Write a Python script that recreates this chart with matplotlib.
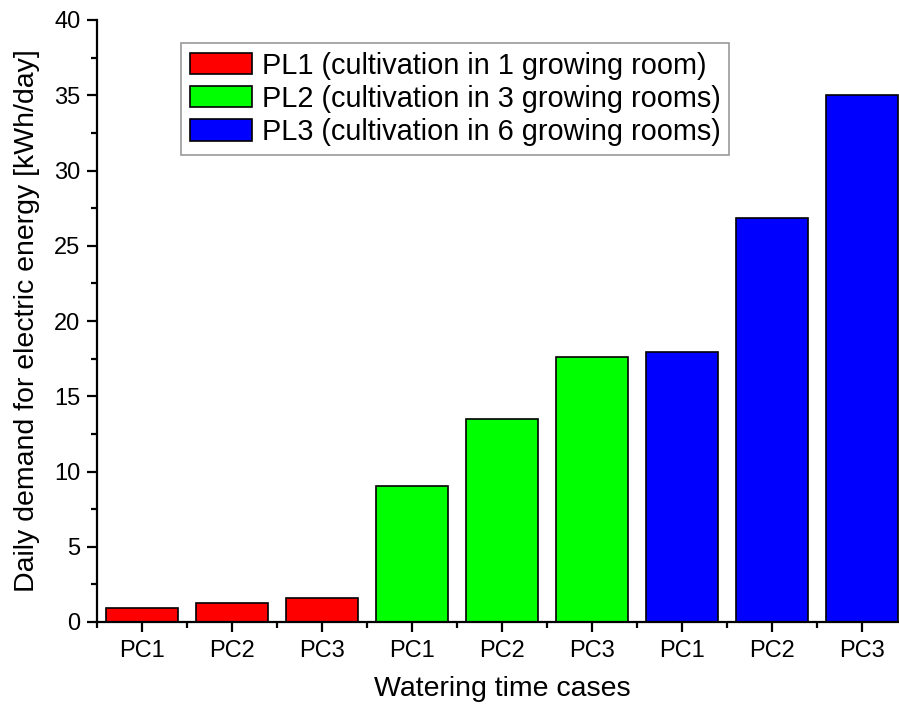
import matplotlib
matplotlib.use("Agg")
from matplotlib import pyplot as plt
from matplotlib.ticker import MultipleLocator
from matplotlib.patches import Patch

plt.rcParams["font.family"] = ["Liberation Sans", "DejaVu Sans"]

# Daily electric demand per watering case and production level
cases = ["PC1", "PC2", "PC3", "PC1", "PC2", "PC3", "PC1", "PC2", "PC3"]
demand = [0.91, 1.28, 1.57, 9.04, 13.49, 17.6, 17.94, 26.84, 35.02]
levels = [0, 0, 0, 1, 1, 1, 2, 2, 2]
level_colors = ["#ff0000", "#00ff00", "#0000ff"]
level_labels = [
    "PL1 (cultivation in 1 growing room)",
    "PL2 (cultivation in 3 growing rooms)",
    "PL3 (cultivation in 6 growing rooms)",
]

fig = plt.figure(figsize=(8.99, 7.11), dpi=100)
ax = fig.add_axes([97 / 899, 89 / 711, 810 / 899, 602 / 711])

xs = list(range(len(demand)))
ax.bar(xs, demand, width=0.8, color=[level_colors[l] for l in levels],
       edgecolor="black", linewidth=1.2)

ax.set_xlim(-0.5, len(demand) - 0.5)
ax.set_ylim(0, 40)
ax.set_xticks(xs)
ax.set_xticklabels(cases)
ax.xaxis.set_minor_locator(MultipleLocator(1, offset=0.5))
ax.yaxis.set_major_locator(MultipleLocator(5))
ax.yaxis.set_minor_locator(MultipleLocator(2.5))

for side in ["top", "right"]:
    ax.spines[side].set_visible(False)
for side in ["left", "bottom"]:
    ax.spines[side].set_linewidth(1.6)

ax.tick_params(which="major", direction="out", length=7, width=1.6, labelsize=17)
ax.tick_params(which="minor", direction="out", length=4, width=1.6)
ax.tick_params(axis="x", pad=6)
ax.tick_params(axis="y", pad=5)

ax.set_xlabel("Watering time cases", fontsize=20.5, labelpad=10)
ax.set_ylabel("Daily demand for electric energy [kWh/day]", fontsize=20.5, labelpad=10)

handles = [Patch(facecolor=c, edgecolor="black", linewidth=1.2) for c in level_colors]
leg = ax.legend(handles, level_labels, loc="upper left", bbox_to_anchor=(84 / 810, 1 - 23 / 602),
                fontsize=20.8, frameon=True, fancybox=False, edgecolor="#808080",
                handlelength=2.15, handleheight=0.75, handletextpad=0.35,
                labelspacing=0.18, borderpad=0.3, borderaxespad=0)
leg.get_frame().set_linewidth(1.2)

fig.savefig("out.png", dpi=100)
